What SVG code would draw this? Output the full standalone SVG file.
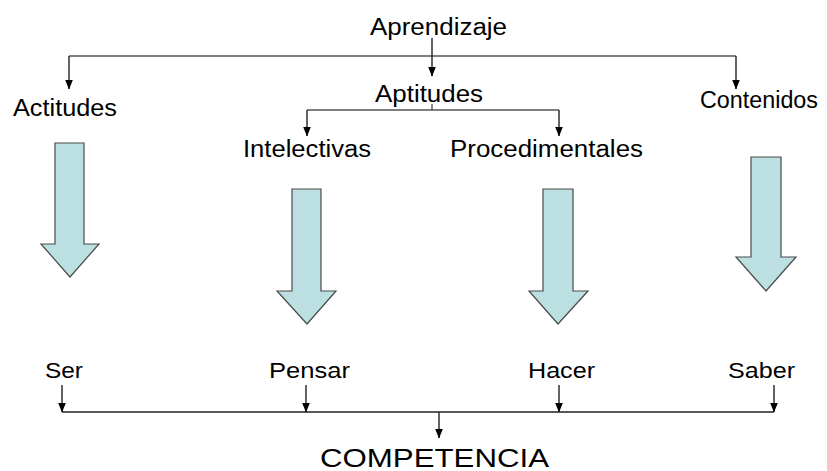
<svg xmlns="http://www.w3.org/2000/svg" width="827" height="471" viewBox="0 0 827 471">
<style>
text{font-family:"Liberation Sans",Arial,sans-serif;fill:#000}
.t{font-size:23px}
.b{font-size:22px}
.c{font-size:25px}
.ln{stroke:#222;stroke-width:1.4;fill:none}
.lg{stroke:#555;stroke-width:1.4;fill:none}
.blk{fill:#bcdfe2;stroke:#4a4a4a;stroke-width:1.2}
</style>
<defs>
<marker id="ah" markerUnits="userSpaceOnUse" markerWidth="10" markerHeight="10" viewBox="0 0 10 10" refX="9.5" refY="5" orient="auto">
<path d="M0,1 L10,5 L0,9 Z" fill="#000"/>
</marker>
</defs>
<rect width="827" height="471" fill="#fff"/>
<g id="connectors">
<path class="lg" d="M69,56 H736"/>
<path class="ln" d="M432,38 V76" marker-end="url(#ah)"/>
<path class="ln" d="M69,56 V89" marker-end="url(#ah)"/>
<path class="ln" d="M736,56 V89" marker-end="url(#ah)"/>
<path class="lg" d="M307,110 H559 M432,104 V110"/>
<path class="ln" d="M307,110 V136" marker-end="url(#ah)"/>
<path class="ln" d="M559,110 V136" marker-end="url(#ah)"/>
<path class="ln" d="M62,385 V412" marker-end="url(#ah)"/>
<path class="ln" d="M306,385 V412" marker-end="url(#ah)"/>
<path class="ln" d="M559,385 V412" marker-end="url(#ah)"/>
<path class="ln" d="M774,385 V412" marker-end="url(#ah)"/>
<path class="ln" d="M62,412 H774"/>
<path class="ln" d="M439,412 V438" marker-end="url(#ah)"/>
<path class="blk" d="M55,143 H84 V244 H99 L70,277 L41,244 H55 Z"/>
<path class="blk" d="M292,189 H321 V291 H336 L307,324 L277,291 H292 Z"/>
<path class="blk" d="M543,189 H573 V291 H588 L558,324 L529,291 H543 Z"/>
<path class="blk" d="M751,157 H781 V257 H796 L766,291 L736,257 H751 Z"/>
</g>
<g id="aprendizaje"><text class="t" x="370" y="35" textLength="137" lengthAdjust="spacingAndGlyphs">Aprendizaje</text></g>
<g id="actitudes"><text class="t" x="13" y="116" textLength="104" lengthAdjust="spacingAndGlyphs">Actitudes</text></g>
<g id="aptitudes"><text class="t" x="375" y="102" textLength="108" lengthAdjust="spacingAndGlyphs">Aptitudes</text></g>
<g id="contenidos"><text class="t" x="700" y="108" textLength="118" lengthAdjust="spacingAndGlyphs">Contenidos</text></g>
<g id="intelectivas"><text class="t" x="243" y="157" textLength="128" lengthAdjust="spacingAndGlyphs">Intelectivas</text></g>
<g id="procedimentales"><text class="t" x="450" y="157" textLength="193" lengthAdjust="spacingAndGlyphs">Procedimentales</text></g>
<g id="ser"><text class="b" x="45" y="378" textLength="38" lengthAdjust="spacingAndGlyphs">Ser</text></g>
<g id="pensar"><text class="b" x="269" y="378" textLength="81" lengthAdjust="spacingAndGlyphs">Pensar</text></g>
<g id="hacer"><text class="b" x="528" y="378" textLength="67" lengthAdjust="spacingAndGlyphs">Hacer</text></g>
<g id="saber"><text class="b" x="728" y="378" textLength="67" lengthAdjust="spacingAndGlyphs">Saber</text></g>
<g id="competencia"><text class="c" x="320" y="467" textLength="229" lengthAdjust="spacingAndGlyphs">COMPETENCIA</text></g>
</svg>
